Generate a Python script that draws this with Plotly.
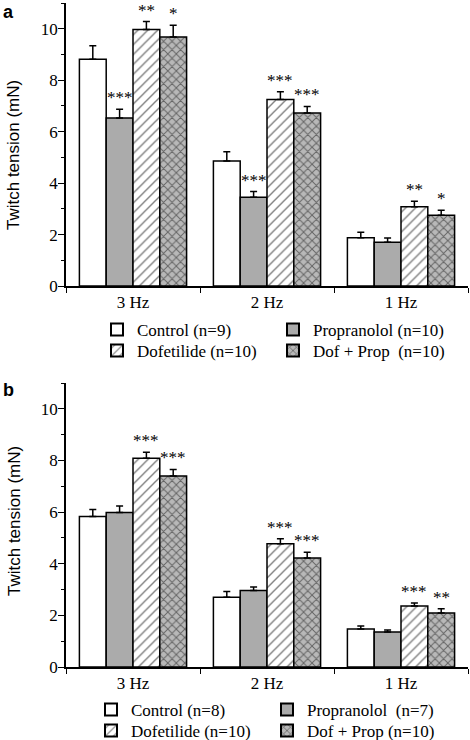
import plotly.graph_objects as go

categories = ["3 Hz", "2 Hz", "1 Hz"]
series_a = ["Control (n=9)", "Propranolol (n=10)", "Dofetilide (n=10)", "Dof + Prop\u00a0\u00a0(n=10)"]
series_b = ["Control (n=8)", "Propranolol\u00a0\u00a0(n=7)", "Dofetilide (n=10)", "Dof + Prop (n=10)"]

# panel a values (mN) per series, over categories
vals_a = [
    [8.81, 4.86, 1.88],
    [6.53, 3.45, 1.70],
    [9.97, 7.25, 3.08],
    [9.68, 6.72, 2.75],
]
err_a = [
    [0.53, 0.36, 0.21],
    [0.34, 0.22, 0.17],
    [0.31, 0.30, 0.21],
    [0.46, 0.26, 0.19],
]
stars_a = [
    ["", "", ""],
    ["***", "***", ""],
    ["**", "***", "**"],
    ["*", "***", "*"],
]

vals_b = [
    [5.83, 2.70, 1.47],
    [5.98, 2.96, 1.36],
    [8.09, 4.77, 2.36],
    [7.40, 4.22, 2.09],
]
err_b = [
    [0.27, 0.22, 0.12],
    [0.26, 0.14, 0.07],
    [0.23, 0.20, 0.12],
    [0.25, 0.22, 0.17],
]
stars_b = [
    ["", "", ""],
    ["", "", ""],
    ["***", "***", "***"],
    ["***", "***", "**"],
]

SERIF = '"Liberation Serif", "Times New Roman", serif'
SANS = '"Liberation Sans", Arial, sans-serif'

W, H = 470, 740
def px(x):
    return x / W
def py(y):
    return 1 - y / H

styles = [
    dict(color="white", pattern=dict(shape="")),
    dict(color="#ababab", pattern=dict(shape="")),
    dict(color="white", pattern=dict(shape="/", fgcolor="black", bgcolor="white", size=7, solidity=0.2)),
    dict(color="#b5b5b5", pattern=dict(shape="x", fgcolor="#111111", bgcolor="#b8b8b8", size=6, solidity=0.3)),
]

fig = go.Figure()

def add_panel(names, vals, errs, xa, ya, legends):
    for j, name in enumerate(names):
        st = styles[j]
        fig.add_trace(go.Bar(
            x=categories, y=vals[j], name=name,
            xaxis=xa, yaxis=ya, legend=legends[j // 2],
            marker=dict(color=st["color"], pattern=st["pattern"],
                        line=dict(color="black", width=1.5)),
            error_y=dict(type="data", symmetric=False, array=errs[j],
                         arrayminus=[0] * len(errs[j]),
                         color="black", thickness=1.5, width=3.5),
        ))

add_panel(series_a, vals_a, err_a, "x", "y", ["legend", "legend2"])
add_panel(series_b, vals_b, err_b, "x2", "y2", ["legend3", "legend4"])

annotations = []
def add_stars(vals, errs, stars, xref, yref):
    for j in range(4):
        for i in range(3):
            s = stars[j][i]
            if s:
                annotations.append(dict(
                    x=i + (j - 1.5) * 0.2, y=vals[j][i] + errs[j][i],
                    xref=xref, yref=yref, text=s, showarrow=False,
                    xanchor="center", yanchor="bottom", yshift=0,
                    font=dict(family=SERIF, size=17, color="black")))

add_stars(vals_a, err_a, stars_a, "x", "y")
add_stars(vals_b, err_b, stars_b, "x2", "y2")

annotations += [
    dict(text="<b>a</b>", x=px(8), y=py(0), xref="paper", yref="paper",
         xanchor="center", yanchor="top",
         showarrow=False, font=dict(family=SANS, size=18, color="black")),
    dict(text="<b>b</b>", x=px(8), y=py(378), xref="paper", yref="paper",
         xanchor="center", yanchor="top",
         showarrow=False, font=dict(family=SANS, size=18, color="black")),
    dict(text="Twitch tension (mN)", x=px(14), y=py(155), xref="paper", yref="paper",
         xanchor="center", yanchor="middle",
         textangle=-90, showarrow=False, font=dict(family=SANS, size=17, color="black")),
    dict(text="Twitch tension (mN)", x=px(14), y=py(521), xref="paper", yref="paper",
         xanchor="center", yanchor="middle",
         textangle=-90, showarrow=False, font=dict(family=SANS, size=17, color="black")),
]

xdom = [px(66), px(468)]
xaxis_common = dict(
    domain=xdom, type="category", tickson="boundaries", ticks="outside", ticklen=5,
    tickcolor="black", tickwidth=1.2, showline=True, linecolor="black", linewidth=1.5,
    showgrid=False, zeroline=False, range=[-0.5, 2.5], automargin=False,
    tickfont=dict(family=SERIF, size=17, color="black"),
)
yaxis_common = dict(
    range=[0, 11], dtick=2, tick0=0, ticks="outside", ticklen=6, tickwidth=1.2,
    tickcolor="black", showline=True, linecolor="black", linewidth=1.5,
    showgrid=False, zeroline=False, automargin=False, ticklabelstandoff=-3,
    tickfont=dict(family=SERIF, size=17, color="black"),
    minor=dict(dtick=1, tick0=0, ticks="outside", ticklen=3, tickcolor="black", showgrid=False),
)

legend_common = dict(
    orientation="h", xanchor="left", yanchor="top", entrywidth=131, entrywidthmode="pixels",
    font=dict(family=SERIF, size=17, color="black"), bgcolor="rgba(0,0,0,0)",
    itemsizing="constant", tracegroupgap=0,
)

fig.update_layout(
    width=W, height=H, margin=dict(l=0, r=0, t=0, b=0, autoexpand=False),
    paper_bgcolor="white", plot_bgcolor="white",
    barmode="group", bargap=0.2, bargroupgap=0,
    xaxis=dict(anchor="y", **xaxis_common),
    yaxis=dict(anchor="x", domain=[py(286), py(3)], **yaxis_common),
    xaxis2=dict(anchor="y2", **xaxis_common),
    yaxis2=dict(anchor="x2", domain=[py(667), py(383)], **yaxis_common),
    legend=dict(x=px(97), y=py(312), **legend_common),
    legend2=dict(x=px(97), y=py(333), **legend_common),
    legend3=dict(x=px(91), y=py(692), **legend_common),
    legend4=dict(x=px(91), y=py(713), **legend_common),
    annotations=annotations,
    showlegend=True,
)

fig.write_html("out.html", config={"displayModeBar": False},
               post_script="document.body.style.margin='0px';")
